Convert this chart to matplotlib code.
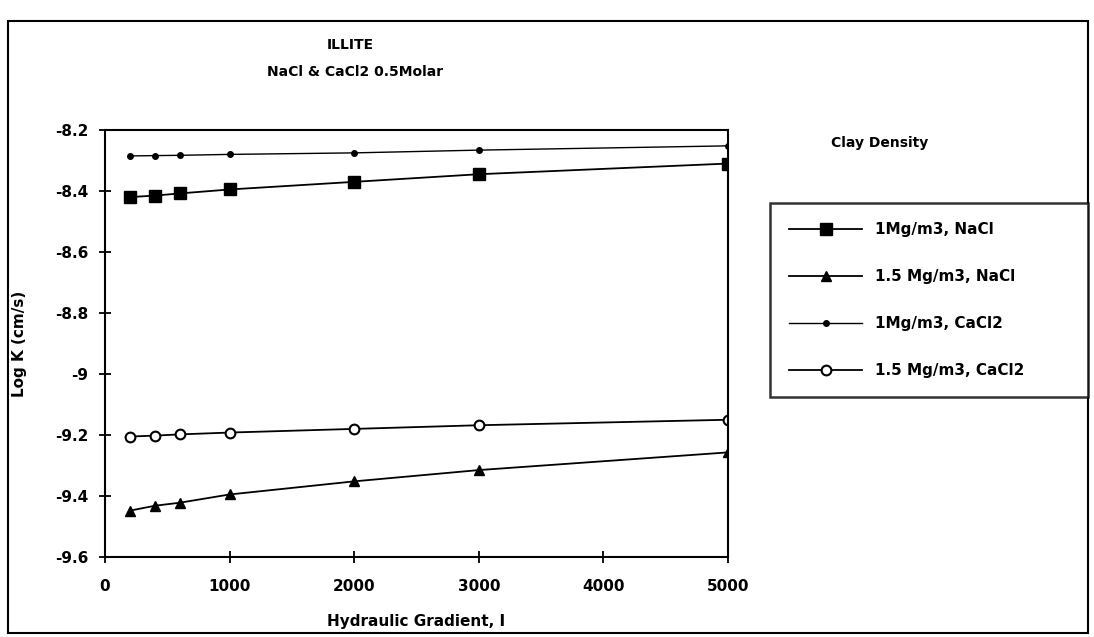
import numpy as np
import matplotlib.pyplot as plt
from matplotlib.patches import Rectangle

# data
gradient = [200, 400, 600, 1000, 2000, 3000, 5000]
na_1 = [-8.42, -8.415, -8.408, -8.395, -8.37, -8.345, -8.31]
na_15 = [-9.448, -9.432, -9.422, -9.395, -9.352, -9.315, -9.257]
ca_1 = [-8.285, -8.284, -8.283, -8.28, -8.275, -8.266, -8.252]
ca_15 = [-9.205, -9.202, -9.198, -9.192, -9.18, -9.168, -9.15]
labels = ["1Mg/m3, NaCl", "1.5 Mg/m3, NaCl", "1Mg/m3, CaCl2", "1.5 Mg/m3, CaCl2"]

plt.rcParams['font.family'] = ['DejaVu Sans']
plt.rcParams['font.weight'] = 'bold'

fig = plt.figure(figsize=(10.94, 6.37), dpi=100)
W, H = 1094, 637
ax = fig.add_axes([105 / W, 1 - 557 / H, (728 - 105) / W, (557 - 130) / H])

# outer frame
fig.patches.append(Rectangle((8 / W, 4 / H), 1080 / W, 612 / H, transform=fig.transFigure,
                             fill=False, lw=1.5, ec='black'))

l1, = ax.plot(gradient, na_1, '-', color='black', lw=1.3, marker='s', ms=8)
l2, = ax.plot(gradient, na_15, '-', color='black', lw=1.3, marker='^', ms=7)
l3, = ax.plot(gradient, ca_1, '-', color='black', lw=1.0, marker='o', ms=4)
l4, = ax.plot(gradient, ca_15, '-', color='black', lw=1.3, marker='o', ms=7,
              mfc='white', mew=1.5)

ax.set_xlim(0, 5000)
ax.set_ylim(-9.6, -8.2)
ax.set_xticks(np.arange(0, 5001, 1000))
ax.set_yticks(np.arange(-9.6, -8.19, 0.2))
ax.set_yticklabels(['-9.6', '-9.4', '-9.2', '-9', '-8.8', '-8.6', '-8.4', '-8.2'])
ax.tick_params(direction='inout', length=8, width=1.3, labelsize=11, pad=8)
for lab in ax.get_xticklabels() + ax.get_yticklabels():
    lab.set_fontweight('bold')
ax.xaxis.set_tick_params(pad=12)
for s in ax.spines.values():
    s.set_linewidth(1.5)

ax.set_xlabel('Hydraulic Gradient, I', fontsize=11, fontweight='bold', labelpad=14)
ax.set_ylabel('Log K (cm/s)', fontsize=11, fontweight='bold', labelpad=20)

fig.text(350 / W, 1 - 45 / H, 'ILLITE', ha='center', va='center', fontsize=10, fontweight='bold')
fig.text(355 / W, 1 - 72 / H, 'NaCl & CaCl2 0.5Molar', ha='center', va='center',
         fontsize=10, fontweight='bold')
fig.text(880 / W, 1 - 143 / H, 'Clay Density', ha='center', va='center', fontsize=10, fontweight='bold')

leg = fig.legend([l1, l2, l3, l4], labels, loc='upper left', mode='expand',
                 bbox_to_anchor=(770 / W, 1 - 397 / H, 318 / W, 194 / H), frameon=True,
                 fancybox=False, edgecolor='black', fontsize=11, handlelength=4.8,
                 labelspacing=2.1, borderpad=1.25, handletextpad=0.8, borderaxespad=0)
leg.get_frame().set_linewidth(1.8)
for t in leg.get_texts():
    t.set_fontweight('bold')

fig.savefig('out.png', dpi=100)
